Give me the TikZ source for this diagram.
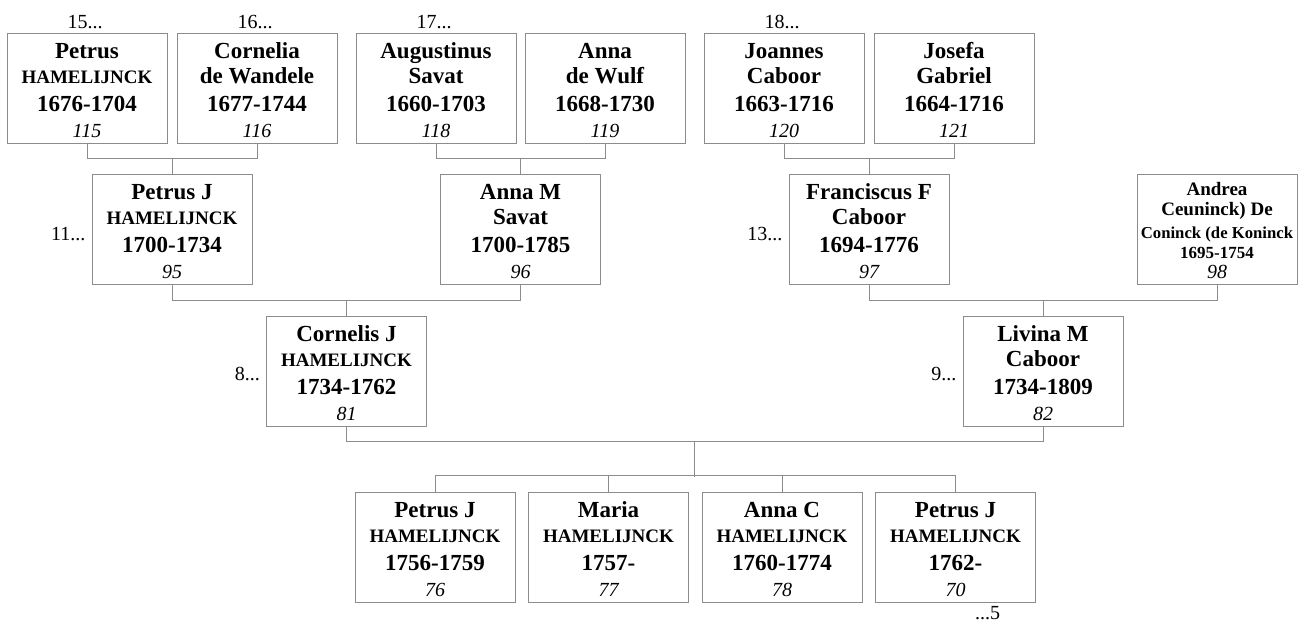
\documentclass[tikz,border=0pt]{standalone}
\usepackage{fontspec}
\setmainfont{Liberation Serif}
\definecolor{ln}{RGB}{140,140,140}
\newcommand{\smc}{\fontsize{19}{19}\selectfont}
\newcommand{\pers}[7]{%
  \node[pbox] (#1) at (#2,#3+55) {};
  \node[nm] (#1a) at (#2,#3+25) {#4};
  \node[nm] (#1b) at (#2,#3+50) {#5};
  \node[nm] (#1c) at (#2,#3+78) {#6};
  \node[num] (#1d) at (#2,#3+104) {#7};
}
\begin{document}
\begin{tikzpicture}[x=1pt,y=-1pt,
  pbox/.style={draw=ln,line width=1pt,minimum width=160pt,minimum height=110pt,inner sep=0pt},
  nm/.style={anchor=base,inner sep=0pt,font=\bfseries\fontsize{23}{23}\selectfont},
  num/.style={anchor=base,inner sep=0pt,font=\itshape\fontsize{20}{20}\selectfont},
  lbl/.style={inner sep=0pt,font=\fontsize{20}{20}\selectfont},
  conn/.style={draw=ln,line width=1pt}]
\useasboundingbox (0,0) rectangle (1302,625);
% generation 1
\pers{p115}{87}{33}{Petrus}{\smc HAMELIJNCK}{1676-1704}{115}
\pers{p116}{257}{33}{Cornelia}{de Wandele}{1677-1744}{116}
\pers{p118}{436}{33}{Augustinus}{Savat}{1660-1703}{118}
\pers{p119}{605}{33}{Anna}{de Wulf}{1668-1730}{119}
\pers{p120}{784}{33}{Joannes}{Caboor}{1663-1716}{120}
\pers{p121}{954}{33}{Josefa}{Gabriel}{1664-1716}{121}
% generation 2
\pers{p95}{172}{174}{Petrus J}{\smc HAMELIJNCK}{1700-1734}{95}
\pers{p96}{520.5}{174}{Anna M}{Savat}{1700-1785}{96}
\pers{p97}{869}{174}{Franciscus F}{Caboor}{1694-1776}{97}
\node[pbox] (p98) at (1217,229) {};
\node[nm,font=\bfseries\fontsize{19}{19}\selectfont] (p98a) at (1217,195) {Andrea};
\node[nm,font=\bfseries\fontsize{19}{19}\selectfont] (p98b) at (1217,215) {Ceuninck) De};
\node[nm,font=\bfseries\fontsize{16.7}{17}\selectfont] (p98c) at (1217,238) {Coninck (de Koninck};
\node[nm,font=\bfseries\fontsize{17}{17}\selectfont] (p98e) at (1217,258) {1695-1754};
\node[num] (p98d) at (1217,278) {98};
% generation 3
\pers{p81}{346.5}{316}{Cornelis J}{\smc HAMELIJNCK}{1734-1762}{81}
\pers{p82}{1043}{316}{Livina M}{Caboor}{1734-1809}{82}
% children
\pers{p76}{435}{492}{Petrus J}{\smc HAMELIJNCK}{1756-1759}{76}
\pers{p77}{608.5}{492}{Maria}{\smc HAMELIJNCK}{1757-}{77}
\pers{p78}{782}{492}{Anna C}{\smc HAMELIJNCK}{1760-1774}{78}
\pers{p70}{955.5}{492}{Petrus J}{\smc HAMELIJNCK}{1762-}{70}
% labels
\node[lbl,anchor=base] (l15) at (85,28) {15...};
\node[lbl,anchor=base] (l16) at (255,28) {16...};
\node[lbl,anchor=base] (l17) at (434,28) {17...};
\node[lbl,anchor=base] (l18) at (782,28) {18...};
\node[lbl,anchor=base east] (l11) at ([xshift=-6pt]p95.west |- 0,240) {11...};
\node[lbl,anchor=base east] (l13) at ([xshift=-6pt]p97.west |- 0,240) {13...};
\node[lbl,anchor=base east] (l8) at ([xshift=-6pt]p81.west |- 0,380) {8...};
\node[lbl,anchor=base east] (l9) at ([xshift=-6pt]p82.west |- 0,380) {9...};
\node[lbl,anchor=base west] (l5) at (975,619) {...5};
% connectors
\draw[conn] (p115.south) -- ++(0,15) -| (p116.south);
\draw[conn] (p95.north) -- ++(0,-16);
\draw[conn] (p118.south) -- ++(0,15) -| (p119.south);
\draw[conn] (p96.north) -- ++(0,-16);
\draw[conn] (p120.south) -- ++(0,15) -| (p121.south);
\draw[conn] (p97.north) -- ++(0,-16);
\draw[conn] (p95.south) -- ++(0,16) -| (p96.south);
\draw[conn] (p81.north) -- ++(0,-16);
\draw[conn] (p97.south) -- ++(0,16) -| (p98.south);
\draw[conn] (p82.north) -- ++(0,-16);
\draw[conn] (p81.south) -- ++(0,15) -| (p82.south);
\path (p81.south) -- (p82.south) coordinate[pos=0.5] (fam);
\draw[conn] (fam) ++(0,15) -- ++(0,35);
\draw[conn] (p76.north) -- ++(0,-16) -| (p70.north);
\draw[conn] (p77.north) -- ++(0,-16);
\draw[conn] (p78.north) -- ++(0,-16);
\end{tikzpicture}
\end{document}
